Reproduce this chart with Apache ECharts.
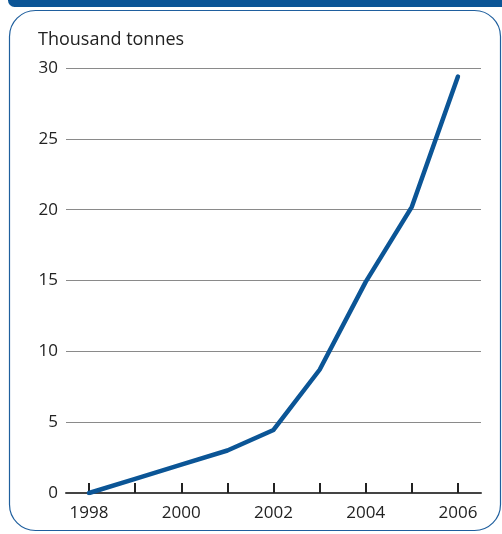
<!DOCTYPE html>
<html><head><meta charset="utf-8">
<script src="https://cdn.jsdelivr.net/npm/echarts@6/dist/echarts.min.js"></script>
<style>html,body{margin:0;padding:0;background:#fff}#c{width:502px;height:534px}</style>
</head><body><div id="c"></div>
<script>
var years = ['1998','1999','2000','2001','2002','2003','2004','2005','2006'];
var values = [0, 1.0, 2.0, 3.0, 4.45, 8.7, 14.9, 20.2, 29.4];
var yTicks = [0, 5, 10, 15, 20, 25, 30];
var unitLabel = 'Thousand tonnes';

var chart = echarts.init(document.getElementById('c'), null, {renderer:'canvas'});
var font = "'Open Sans', 'Noto Sans', sans-serif";
chart.setOption({
  animation: false,
  backgroundColor: '#fff',
  graphic: [
    {type:'rect', shape:{x:8,y:-6,width:520,height:13,r:7}, style:{fill:'#0b5596'}},
    {type:'rect', shape:{x:9.5,y:10.5,width:491,height:520,r:26}, style:{fill:'none',stroke:'#1f5f9e',lineWidth:1.2}},
    {type:'text', left:38, top:31, style:{text:unitLabel, font:"18px 'Open Sans', 'Noto Sans', sans-serif", fill:'#222'}}
  ],
  grid: {left:66, right:21, top:68, bottom:41},
  xAxis: {
    type:'category', data:years, boundaryGap:true,
    axisLine:{show:true, lineStyle:{color:'#444', width:2}},
    axisTick:{show:true, alignWithLabel:true, inside:true, length:10, interval:0, lineStyle:{color:'#222', width:2}},
    axisLabel:{interval:1, color:'#222', fontSize:17, fontFamily:font, margin:12},
    splitLine:{show:false}
  },
  yAxis: {
    type:'value', min:yTicks[0], max:yTicks[yTicks.length-1], interval:5,
    axisLine:{show:false}, axisTick:{show:false},
    axisLabel:{color:'#222', fontSize:17, fontFamily:font, margin:8},
    splitLine:{lineStyle:{color:'#8a8a8a', width:1}}
  },
  series: [{
    type:'line', data:values, symbol:'none',
    lineStyle:{color:'#0b5596', width:4.5, cap:'round', join:'round'}
  }]
});
</script></body></html>
